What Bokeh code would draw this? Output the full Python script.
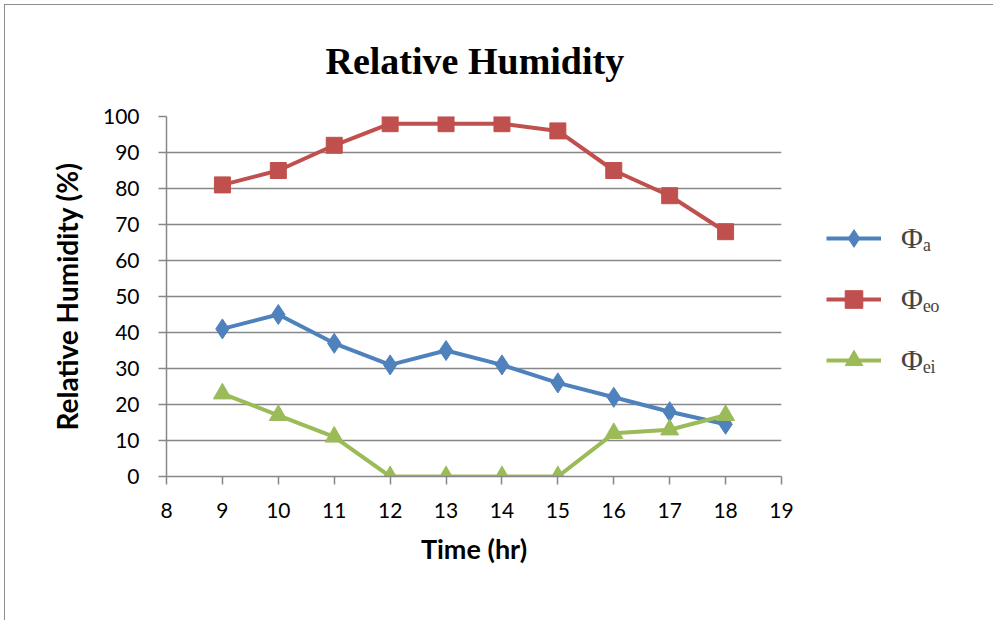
from bokeh.plotting import figure
from bokeh.layouts import row
from bokeh.models import Range1d, FixedTicker, Legend, LegendItem
from bokeh.embed import file_html
from bokeh.resources import INLINE

# ---- data ----
hours = [9, 10, 11, 12, 13, 14, 15, 16, 17, 18]
phi_a = [41, 45, 37, 31, 35, 31, 26, 22, 18, 14.5]
phi_eo = [81, 85, 92, 98, 98, 98, 96, 85, 78, 68]
phi_ei = [23, 17, 11, 0, 0, 0, 0, 12, 13, 17]
x_ticks = list(range(8, 20))
y_ticks = list(range(0, 101, 10))
legend_labels = ["Φₐ", "Φₑₒ", "Φₑᵢ"]
colors = ["#4F81BD", "#C0504D", "#9BBB59"]
markers = ["diamond", "square", "triangle"]
marker_sizes = [20, 16, 18]

# ---- geometry (canvas px) ----
OX, OY = 5, 5                      # host offset (margin + border)
W, H = 993 - OX, 620 - OY
WM = 800 - OX                      # main figure width
FL, FR, FT, FB = 166 - OX, 781 - OX, 116 - OY, 476 - OY

p = figure(width=WM, height=H, output_backend="svg", toolbar_location=None,
           x_range=Range1d(8, 19), y_range=Range1d(0, 100),
           min_border_left=FL, min_border_right=WM - FR,
           min_border_top=FT, min_border_bottom=H - FB)
p.frame_align = False
p.outline_line_color = None
p.background_fill_color = "white"
p.border_fill_color = "white"

p.title.text = "Relative Humidity"
p.title.align = "left"
p.title.vertical_align = "top"
p.title.offset = 325 - 166
p.title.standoff = 66
p.title.text_font = "Liberation Serif"
p.title.text_font_style = "bold"
p.title.text_font_size = "38px"
p.title.text_color = "black"

grey = "#878787"
for ax in (p.xaxis[0], p.yaxis[0]):
    ax.axis_line_color = grey
    ax.axis_line_width = 1.5
    ax.major_tick_line_color = grey
    ax.major_tick_line_width = 1.5
    ax.major_tick_out = 8
    ax.major_tick_in = 0
    ax.minor_tick_line_color = None
    ax.major_label_text_font = "Lato"
    ax.major_label_text_font_size = "21px"
    ax.major_label_text_color = "black"
    ax.axis_label_text_font = "Lato"
    ax.axis_label_text_font_style = "bold"
    ax.axis_label_text_color = "black"

p.xaxis.ticker = FixedTicker(ticks=x_ticks)
p.yaxis.ticker = FixedTicker(ticks=y_ticks)
p.xaxis.major_label_standoff = 18
p.yaxis.major_label_standoff = 19
p.xaxis.axis_label = "Time (hr)"
p.yaxis.axis_label = "Relative Humidity (%)"
p.xaxis.axis_label_text_font_size = "27px"
p.yaxis.axis_label_text_font_size = "28px"
p.xaxis.axis_label_standoff = 11
p.yaxis.axis_label_standoff = 16

p.xgrid.visible = False
p.ygrid.ticker = FixedTicker(ticks=y_ticks)
p.ygrid.grid_line_color = grey
p.ygrid.grid_line_width = 1.5

# legend panel: a second figure that only holds the legend
pl = figure(width=W - WM, height=H, output_backend="svg", toolbar_location=None,
            x_axis_type=None, y_axis_type=None, min_border=0)
pl.frame_align = False
pl.outline_line_color = None
pl.grid.visible = False
pl.background_fill_color = "white"
pl.border_fill_color = "white"

items = []
for ys, c, m, ms, lab in zip([phi_a, phi_eo, phi_ei], colors, markers, marker_sizes, legend_labels):
    p.line(hours, ys, line_color=c, line_width=4)
    p.scatter(hours, ys, marker=m, size=ms, fill_color=c, line_color=c)
    ln = pl.line(hours, ys, line_color=c, line_width=4, visible=False)
    sc = pl.scatter(hours, ys, marker=m, size=ms, fill_color=c, line_color=c, visible=False)
    items.append(LegendItem(label=lab, renderers=[ln, sc]))

row_h, row_sp = 44, 17
leg_h = 3 * row_h + 2 * row_sp
leg_center_y = 299 - OY
legend = Legend(items=items,
                location=(826 - 800, H - (leg_center_y + leg_h / 2)),
                glyph_width=55, glyph_height=row_h, label_height=row_h,
                spacing=row_sp, padding=0, margin=0, label_standoff=20,
                border_line_alpha=0, background_fill_alpha=0,
                inactive_fill_alpha=0,
                label_text_font="Liberation Serif", label_text_font_size="30px")
pl.add_layout(legend, "center")

layout = row(p, pl)
layout.styles = {"margin-left": "4px", "margin-top": "4px",
                 "border-left": "1px solid #8c8c8c", "border-top": "1px solid #8c8c8c"}

open("out.html", "w").write(file_html(layout, INLINE))
